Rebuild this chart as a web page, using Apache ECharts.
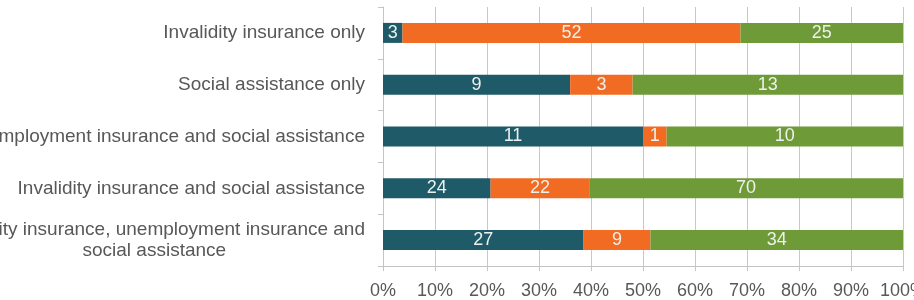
<!DOCTYPE html>
<html>
<head>
<meta charset="utf-8">
<script src="https://cdn.jsdelivr.net/npm/echarts@6/dist/echarts.min.js"></script>
<style>
  html, body { margin: 0; padding: 0; background: #fff; }
  #chart { width: 914px; height: 300px; }
</style>
</head>
<body>
<div id="chart"></div>
<script>
// categories, top to bottom
const categories = [
  'Invalidity insurance only',
  'Social assistance only',
  'Unemployment insurance and social assistance',
  'Invalidity insurance and social assistance',
  'Invalidity insurance, unemployment insurance and\nsocial assistance'
]
// raw counts shown in the bars
const tealValues = [3, 9, 11, 24, 27]
const orangeValues = [52, 3, 1, 22, 9]
const greenValues = [25, 13, 10, 70, 34]
const tickLabels = ['0%', '10%', '20%', '30%', '40%', '50%', '60%', '70%', '80%', '90%', '100%']

const rawSeries = [tealValues, orangeValues, greenValues]
const colors = ['#1f5a68', '#f26b22', '#6e9a37']

// share of each row total (100% stacked)
const totals = categories.map((c, i) => tealValues[i] + orangeValues[i] + greenValues[i])
const toPercent = arr => arr.map((v, i) => v / totals[i] * 100)

const chart = echarts.init(document.getElementById('chart'))

const textFont = 'Liberation Sans, Arial, sans-serif'

chart.setOption({
  animation: false,
  grid: { left: 383, right: 11, top: 7, bottom: 34, containLabel: false, outerBoundsMode: 'none' },
  xAxis: {
    type: 'value',
    min: 0,
    max: 100,
    interval: 10,
    axisLine: { show: true, lineStyle: { color: '#c4c4c4' } },
    axisTick: { show: true, length: 5, lineStyle: { color: '#c4c4c4' } },
    splitLine: { show: true, lineStyle: { color: '#c8c8c8' } },
    axisLabel: {
      color: '#585858',
      fontFamily: textFont,
      fontSize: 18,
      margin: 16,
      hideOverlap: false,
      formatter: v => tickLabels[Math.round(v / 10)]
    }
  },
  yAxis: {
    type: 'category',
    inverse: true,
    data: categories,
    axisLine: { show: true, lineStyle: { color: '#c4c4c4' } },
    axisTick: { show: true, length: 5, lineStyle: { color: '#c4c4c4' } },
    axisLabel: {
      color: '#585858',
      fontFamily: textFont,
      fontSize: 19,
      margin: 18,
      lineHeight: 21,
      formatter: v => v.split('\n').map(s => '{c|' + s + '}').join('\n'),
      rich: {
        c: { align: 'center', color: '#585858', fontFamily: textFont, fontSize: 19, lineHeight: 21 }
      }
    }
  },
  series: rawSeries.map((arr, k) => ({
    type: 'bar',
    stack: 'total',
    barWidth: 20,
    data: toPercent(arr),
    itemStyle: { color: colors[k] },
    label: {
      show: true,
      position: 'inside',
      color: '#eef0ee',
      fontFamily: textFont,
      fontSize: 18,
      formatter: p => arr[p.dataIndex]
    }
  }))
})
</script>
</body>
</html>
